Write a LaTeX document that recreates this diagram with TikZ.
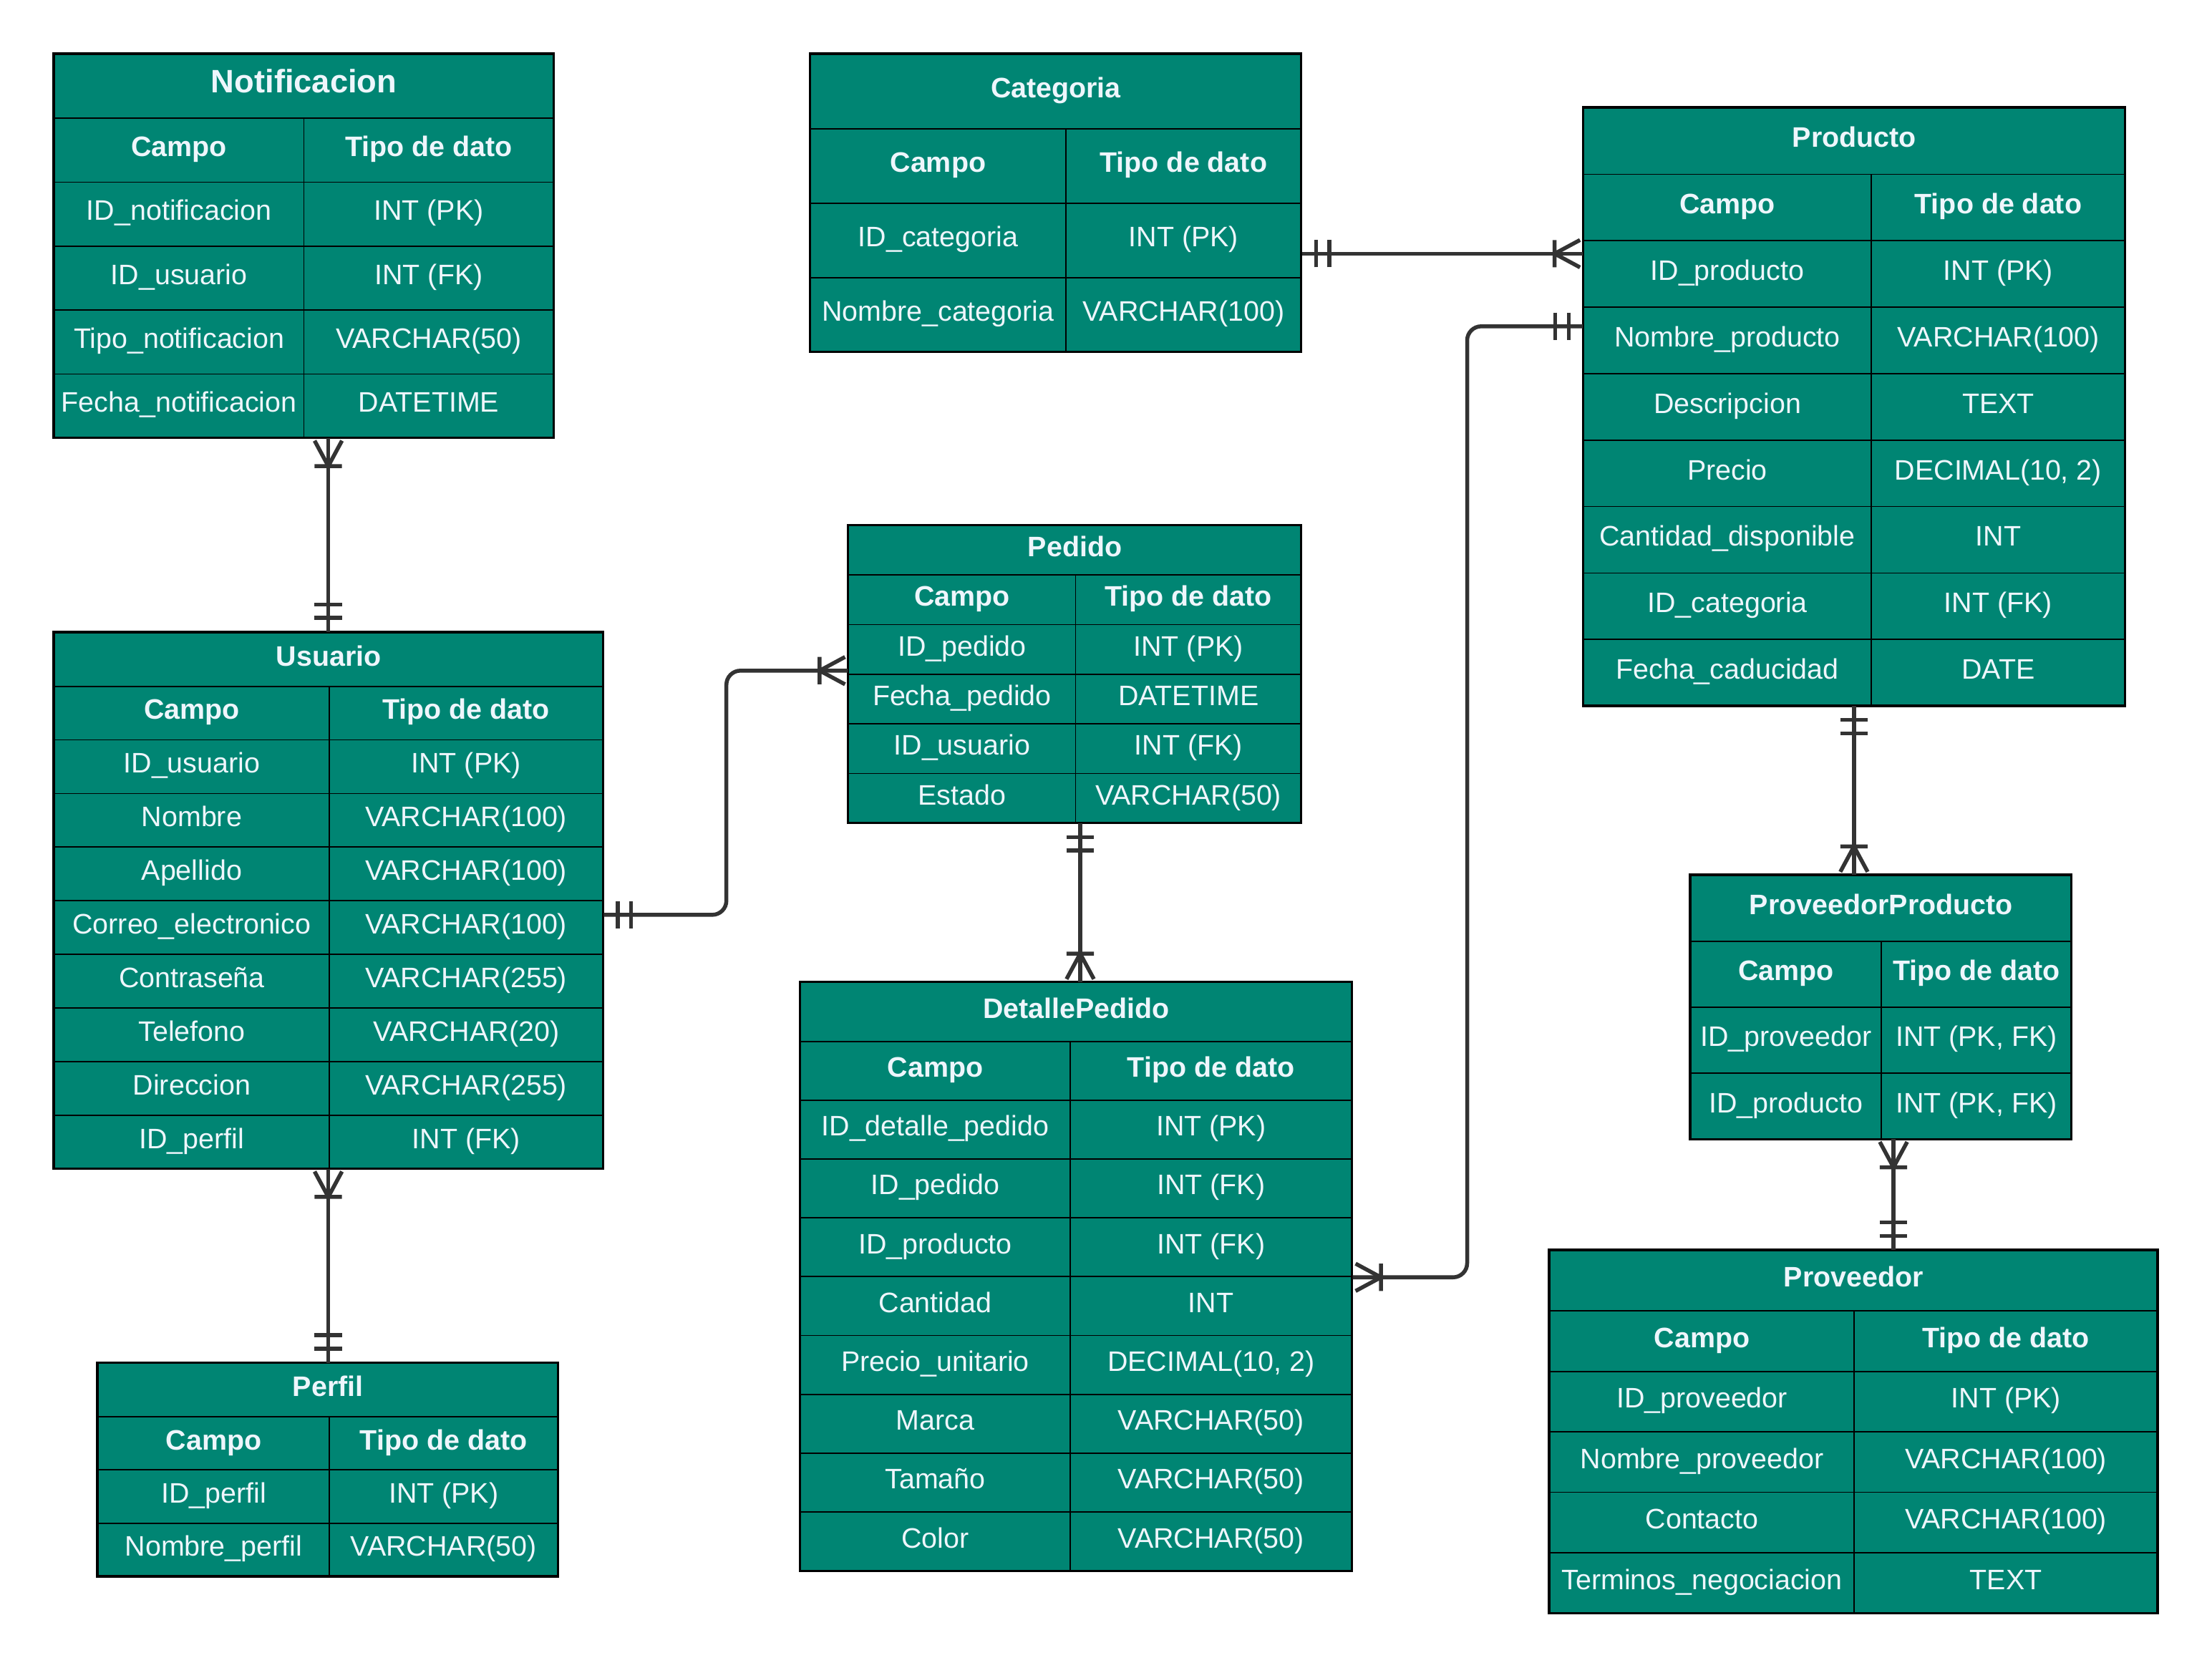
\documentclass[tikz,border=0pt]{standalone}
\usepackage{fontspec}
\setmainfont{Liberation Sans}
\usepackage{tikz}
\usetikzlibrary{decorations.markings}

\definecolor{erteal}{RGB}{0,133,115}
\definecolor{ertext}{RGB}{238,246,252}
\definecolor{erline}{RGB}{51,51,51}

% #1 name, #2 x, #3 y, #4 width left, #5 width right, #6 row height, #7 title, #8 rows, #9 fields
\newcommand{\ertable}[9]{%
  \node[tblbox, minimum width={#4+#5}, minimum height={#6*(#8+2)}] (#1) at (#2,#3) {};
  \node[cell, minimum width={#4+#5}, minimum height=#6] (#1-t) at (#2,#3) {\bfseries #7};
  \node[cell, minimum width=#4, minimum height=#6] (#1-a0) at (#2,{#3+#6}) {\bfseries Campo};
  \node[cell, minimum width=#5, minimum height=#6] (#1-b0) at ({#2+#4},{#3+#6}) {\bfseries Tipo de dato};
  \foreach \f/\t [count=\i] in {#9} {
    \node[cell, minimum width=#4, minimum height=#6] (#1-a\i) at (#2,{#3+#6*(\i+1)}) {\f};
    \node[cell, minimum width=#5, minimum height=#6] (#1-b\i) at ({#2+#4},{#3+#6*(\i+1)}) {\t};
  }
  \draw[border] (#1.north west) rectangle (#1.south east);
}

\begin{document}
\begin{tikzpicture}[x=1pt, y=-1pt,
    tblbox/.style={fill=erteal, inner sep=0pt, anchor=north west},
    cell/.style={draw=black, line width=0.9pt, fill=erteal, text=ertext, inner sep=1pt,
      anchor=north west, text height=13pt, text depth=4pt, font=\fontsize{20}{24}\selectfont},
    border/.style={draw=black, line width=1.6pt},
    conn/.style={draw=erline, line width=2.8pt, rounded corners=10pt},
    tick/.style={draw=erline, line width=2.8pt},
    onestart/.style={postaction={decorate, decoration={markings,
      mark=at position 10pt with {\draw[tick] (0,-9.7pt) -- (0,9.7pt);},
      mark=at position 19.5pt with {\draw[tick] (0,-9.7pt) -- (0,9.7pt);}}}},
    oneend/.style={postaction={decorate, decoration={markings,
      mark=at position -10pt with {\draw[tick] (0,-9.7pt) -- (0,9.7pt);},
      mark=at position -19.5pt with {\draw[tick] (0,-9.7pt) -- (0,9.7pt);}}}},
    manystart/.style={postaction={decorate, decoration={markings,
      mark=at position 20pt with {\draw[tick] (0,-9.7pt) -- (0,9.7pt)
        (0,0) -- (-18pt,9.7pt) (0,0) -- (-18pt,-9.7pt);}}}},
    manyend/.style={postaction={decorate, decoration={markings,
      mark=at position -20pt with {\draw[tick] (0,-9.7pt) -- (0,9.7pt)
        (0,0) -- (18pt,9.7pt) (0,0) -- (18pt,-9.7pt);}}}}]
  \fill[white] (0,0) rectangle (1568,1182);
  \useasboundingbox (0,0) rectangle (1568,1182);

  % tables
  \ertable{not}{38}{38}{177}{177}{45.33}{\fontsize{23}{27}\selectfont Notificacion}{4}{
    ID\_notificacion/INT (PK), ID\_usuario/INT (FK),
    Tipo\_notificacion/VARCHAR(50), Fecha\_notificacion/DATETIME}
  \ertable{cat}{574}{38}{181}{167}{52.75}{Categoria}{2}{
    ID\_categoria/INT (PK), Nombre\_categoria/VARCHAR(100)}
  \ertable{pro}{1122}{76}{204}{180}{47.1}{Producto}{7}{
    ID\_producto/INT (PK), Nombre\_producto/VARCHAR(100), Descripcion/TEXT,
    Precio/{DECIMAL(10, 2)}, Cantidad\_disponible/INT, ID\_categoria/INT (FK),
    Fecha\_caducidad/DATE}
  \ertable{ped}{601}{372}{161}{160}{35.17}{Pedido}{4}{
    ID\_pedido/INT (PK), Fecha\_pedido/DATETIME, ID\_usuario/INT (FK), Estado/VARCHAR(50)}
  \ertable{usu}{38}{448}{195}{194}{38}{Usuario}{8}{
    ID\_usuario/INT (PK), Nombre/VARCHAR(100), Apellido/VARCHAR(100),
    Correo\_electronico/VARCHAR(100), Contraseña/VARCHAR(255), Telefono/VARCHAR(20),
    Direccion/VARCHAR(255), ID\_perfil/INT (FK)}
  \ertable{det}{567}{696}{191}{200}{41.7}{DetallePedido}{8}{
    ID\_detalle\_pedido/INT (PK), ID\_pedido/INT (FK), ID\_producto/INT (FK),
    Cantidad/INT, Precio\_unitario/{DECIMAL(10, 2)}, Marca/VARCHAR(50),
    Tamaño/VARCHAR(50), Color/VARCHAR(50)}
  \ertable{per}{69}{966}{164}{162}{37.75}{Perfil}{2}{
    ID\_perfil/INT (PK), Nombre\_perfil/VARCHAR(50)}
  \ertable{pp}{1198}{620}{135}{135}{46.75}{ProveedorProducto}{2}{
    ID\_proveedor/{INT (PK, FK)}, ID\_producto/{INT (PK, FK)}}
  \ertable{prv}{1098}{886}{216}{215}{42.83}{Proveedor}{4}{
    ID\_proveedor/INT (PK), Nombre\_proveedor/VARCHAR(100), Contacto/VARCHAR(100),
    Terminos\_negociacion/TEXT}

  % relations
  \draw[conn, manystart, oneend] (not.south -| usu.north) -- (usu.north);
  \draw[conn, onestart, manyend] ([yshift=-9.5pt]cat-b1.east) coordinate (c1) -- (c1 -| pro.west);
  \draw[conn, onestart, manyend] ([yshift=10pt]pro-a2.west) -- ++(-82,0) |- (det-b3.south east);
  \draw[conn, onestart, manyend] ([yshift=9pt]usu-b4.east) -- ++(87,0) |- ([yshift=-15pt]ped-a1.west);
  \draw[conn, onestart, manyend] ([xshift=4pt]ped.south) coordinate (c5) -- (c5 |- det.north);
  \draw[conn, manystart, oneend] (usu.south) -- (usu.south |- per.north);
  \draw[conn, onestart, manyend] (pro.south) -- (pro.south |- pp.north);
  \draw[conn, manystart, oneend] ([xshift=9pt]pp.south) coordinate (c8) -- (c8 |- prv.north);
\end{tikzpicture}
\end{document}
